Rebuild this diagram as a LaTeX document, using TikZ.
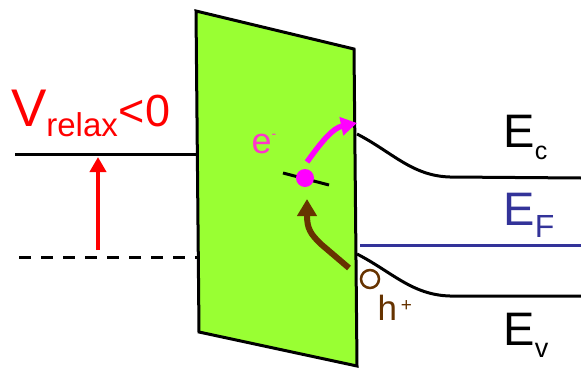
\documentclass[tikz,border=0pt]{standalone}
\usepackage{fontspec}
\setmainfont{Liberation Sans}
\usetikzlibrary{arrows.meta}
\definecolor{barrier}{RGB}{153,255,51}
\definecolor{fermi}{RGB}{51,51,153}
\definecolor{holebrown}{RGB}{102,51,0}
\definecolor{elabel}{RGB}{255,51,204}
\definecolor{elec}{RGB}{255,0,255}
\newcommand{\fs}[1]{\fontsize{#1}{#1}\selectfont}
\tikzset{
  lbl/.style={inner sep=0pt, outer sep=0pt, anchor=base west},
  band/.style={line width=3pt, black},
}
\begin{document}
\begin{tikzpicture}[x=1pt,y=-1pt]
\useasboundingbox (0,0) rectangle (581,367);
% left levels
\coordinate (lvlA) at (15,154);
\coordinate (lvlB) at (197,154);
\coordinate (dashA) at (19,257);
\coordinate (dashB) at (197,257);
\draw[band] (lvlA) -- (lvlB);
\draw[band, dash pattern=on 12pt off 10pt] (dashA) -- (dashB);
% red arrow
\coordinate (redtail) at (98,250);
\coordinate (redtip) at (98,157);
\draw[red, line width=4pt, -{Triangle[width=16pt,length=15pt]}] (redtail) -- (redtip);
\node[lbl, text=red] (vrelax) at (11,126) {\fs{53}V\fs{33}\raisebox{-10pt}{relax}\fs{45}\kern1pt<0};
% barrier
\draw[line width=3pt, fill=barrier, line join=miter] (196,11) -- (354,49) -- (357,366) -- (199,332) -- cycle;
% right bands
\draw[band] (357,134) .. controls (392,152) and (412,176) .. (450,177) -- (581,178);
\draw[band] (357,254) .. controls (392,272) and (412,295) .. (450,296) -- (581,296);
\coordinate (efA) at (360,245.5);
\coordinate (efB) at (581,245.5);
\draw[line width=3pt, fermi] (efA) -- (efB);
\node[lbl] (ec) at (503.5,147) {\fs{47}E\fs{25}\raisebox{-12pt}{c}};
\node[lbl, text=fermi] (ef) at (503.5,225) {\fs{47}E\fs{32}\raisebox{-12pt}{F}};
\node[lbl] (ev) at (503.5,345) {\fs{47}E\fs{27}\raisebox{-12pt}{v}};
% trap level
\coordinate (trapA) at (283,173);
\coordinate (trapB) at (329,185);
\draw[line width=3pt] (trapA) -- (trapB);
\node[circle, fill=elec, inner sep=0pt, minimum size=18pt] (dot) at (305,178) {};
% electron arrow
\coordinate (etail) at (307,162);
\coordinate (etip) at (357,123);
\draw[elec, line width=5.5pt, -{Triangle[width=18pt,length=16pt]}] (etail) .. controls (322,141) and (333,128) .. (etip);
\node[lbl, text=elabel] (elab) at (251.5,153) {\fs{36}e\fs{14}\raisebox{15pt}{-}};
% hole arrow
\coordinate (htail) at (349,268);
\coordinate (htip) at (307,199);
\draw[holebrown, line width=6pt, -{Triangle[width=19pt,length=17pt]}] (htail) -- (322,245) .. controls (310,234) and (307,228) .. (htip);
\node[circle, draw=holebrown, line width=2.5pt, inner sep=0pt, minimum size=18pt] (hole) at (370,279) {};
\node[lbl, text=holebrown] (hlab) at (377.5,320) {\fs{35}h\kern4pt\fs{19}\raisebox{9pt}{+}};
\end{tikzpicture}
\end{document}
